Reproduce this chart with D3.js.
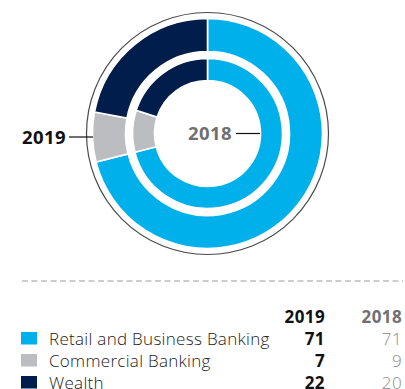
<!DOCTYPE html>
<html>
<head>
<meta charset="utf-8">
<script src="https://cdn.jsdelivr.net/npm/d3@7"></script>
<style>
  html, body { margin: 0; padding: 0; background: #fff; }
  svg { display: block; }
  text { font-family: "Open Sans", Roboto, sans-serif; }
</style>
</head>
<body>
<svg id="chart" width="405" height="389"></svg>
<script>
// Segment shares by year (percent)
const categories = ["Retail and Business Banking", "Commercial Banking", "Wealth"];
const values2019 = [71, 7, 22];
const values2018 = [71, 9, 20];
const years = ["2019", "2018"];
const colors = ["#00b0ea", "#bcbdc0", "#011d4c"];

const svg = d3.select("#chart");
const cx = 207.5, cy = 133.5;

const pie = d3.pie().sort(null).value(d => d).startAngle(0).endAngle(2 * Math.PI);
const color = d3.scaleOrdinal().domain(categories).range(colors);

const g = svg.append("g").attr("transform", `translate(${cx},${cy})`);

// thin enclosing outline
g.append("circle").attr("r", 121).attr("fill", "none")
  .attr("stroke", "#4a4a4a").attr("stroke-width", 1.2);

function ring(values, r0, r1) {
  const arc = d3.arc().innerRadius(r0).outerRadius(r1);
  g.append("g").selectAll("path")
    .data(pie(values))
    .join("path")
    .attr("d", arc)
    .attr("fill", (d, i) => color(categories[i]))
    .attr("stroke", "#fff")
    .attr("stroke-width", 1.6);
}
ring(values2019, 82, 115);  // outer ring: 2019
ring(values2018, 53, 75);   // inner ring: 2018

// year callouts
svg.append("text").attr("x", 66).attr("y", 143.5).attr("text-anchor", "end")
  .attr("font-size", 18.5).attr("font-weight", 700).attr("fill", "#111")
  .attr("letter-spacing", 0.4).text(years[0]);
svg.append("line").attr("x1", 69).attr("x2", 93).attr("y1", 137).attr("y2", 137)
  .attr("stroke", "#111").attr("stroke-width", 1.2);

svg.append("text").attr("x", 232).attr("y", 140).attr("text-anchor", "end")
  .attr("font-size", 18.5).attr("font-weight", 700).attr("fill", "#707072")
  .attr("letter-spacing", 0.4).text(years[1]);
svg.append("line").attr("x1", 236).attr("x2", 260).attr("y1", 133.5).attr("y2", 133.5)
  .attr("stroke", "#111").attr("stroke-width", 1.2);

// dashed separator
svg.append("line").attr("x1", 22).attr("x2", 403).attr("y1", 281).attr("y2", 281)
  .attr("stroke", "#9a9a9a").attr("stroke-width", 1).attr("stroke-dasharray", "6,3.5");

// legend table
const col2019 = 325, col2018 = 402;
svg.append("text").attr("x", col2019).attr("y", 323).attr("text-anchor", "end")
  .attr("font-size", 17).attr("font-weight", 700).attr("fill", "#111")
  .attr("letter-spacing", 0.4).text(years[0]);
svg.append("text").attr("x", col2018).attr("y", 323).attr("text-anchor", "end")
  .attr("font-size", 17).attr("font-weight", 700).attr("fill", "#707072")
  .attr("letter-spacing", 0.4).text(years[1]);

const rowY = d3.scalePoint().domain(categories).range([344.5, 388.5]);
const rows = svg.append("g").selectAll("g").data(categories).join("g")
  .attr("transform", d => `translate(0,${rowY(d)})`);
rows.append("rect").attr("x", 21).attr("y", -12.5).attr("width", 16).attr("height", 12.5)
  .attr("fill", d => color(d));
rows.append("text").attr("x", 49).attr("y", 0)
  .attr("font-size", 17).attr("font-weight", 300).attr("fill", "#222")
  .attr("letter-spacing", 0.3).text(d => d);
rows.append("text").attr("x", col2019).attr("y", 0).attr("text-anchor", "end")
  .attr("font-size", 17).attr("font-weight", 700).attr("fill", "#111")
  .attr("letter-spacing", 0.4).text((d, i) => values2019[i]);
rows.append("text").attr("x", col2018).attr("y", 0).attr("text-anchor", "end")
  .attr("font-size", 17).attr("font-weight", 300).attr("fill", "#8a8a8c")
  .attr("letter-spacing", 0.4).text((d, i) => values2018[i]);
</script>
</body>
</html>
